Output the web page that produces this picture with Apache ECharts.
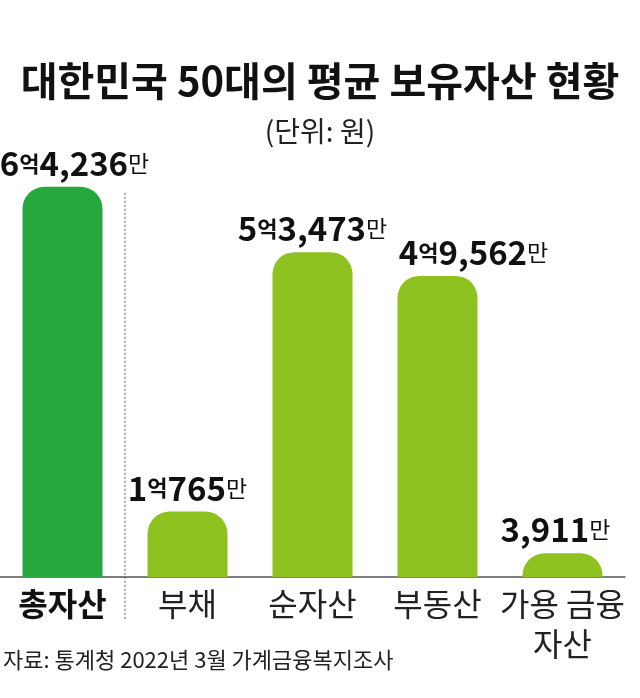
<!DOCTYPE html>
<html><head><meta charset="utf-8">
<script src="https://cdn.jsdelivr.net/npm/echarts@6/dist/echarts.min.js"></script>
<style>html,body{margin:0;padding:0;background:#fff}#c{width:640px;height:698px}</style>
</head><body><div id="c"></div>
<script>
const titleText = '대한민국 50대의 평균 보유자산 현황';
const unitText = '(단위: 원)';
const sourceText = '자료: 통계청 2022년 3월 가계금융복지조사';
const categories = ['총자산', '부채', '순자산', '부동산', '가용 금융\n자산'];
const values = [64236, 10765, 53473, 49562, 3911]; // 만원
const labelShift = [12, 0, 0, 36, -7];
const FONT = '"Noto Sans CJK KR", "Noto Sans", sans-serif';
const GREEN = '#27a83c', LIME = '#8dc220';

function fmt(v) {
  const eok = Math.floor(v / 10000), man = v % 10000;
  const manStr = man.toLocaleString('en-US');
  return eok > 0 ? `{n|${eok}}{e|억}{n|${manStr}}{m|만}` : `{n|${manStr}}{m|만}`;
}

const chart = echarts.init(document.getElementById('c'));
chart.setOption({
  backgroundColor: '#fff',
  animation: false,
  title: [
    { text: titleText, left: 'center', top: 56, textStyle: { fontFamily: FONT, fontSize: 40, fontWeight: 'bold', color: '#111' } },
    { text: unitText, left: 'center', top: 112, textStyle: { fontFamily: FONT, fontSize: 28, fontWeight: 'normal', color: '#222' } },
    { text: sourceText, left: -2, top: 644, textStyle: { fontFamily: FONT, fontSize: 22, fontWeight: 'normal', color: '#222' } }
  ],
  grid: { left: 0, right: 15, top: 91, bottom: 121 },
  xAxis: {
    type: 'category', data: categories,
    axisLine: { lineStyle: { color: '#555', width: 1.5 } },
    axisTick: { show: false },
    axisLabel: {
      margin: 7, interval: 0, color: '#222', fontFamily: FONT, fontSize: 32, lineHeight: 40,
      formatter: (v, i) => i === 0 ? `{b|${v}}` : v,
      rich: { b: { fontFamily: FONT, fontSize: 32, fontWeight: 'bold', color: '#111', lineHeight: 40 } }
    }
  },
  yAxis: { type: 'value', min: 0, max: 80000, show: false, splitLine: { show: false } },
  series: [{
    type: 'bar', barWidth: 80,
    data: values.map((v, i) => ({
      value: v,
      itemStyle: { color: i === 0 ? GREEN : LIME, borderRadius: [22, 22, 0, 0] },
      label: { offset: [labelShift[i], 0] }
    })),
    label: {
      show: true, position: 'top', distance: 7,
      formatter: p => fmt(p.value),
      rich: {
        n: { fontFamily: FONT, fontSize: 33, fontWeight: 'bold', color: '#111' },
        e: { fontFamily: FONT, fontSize: 22, fontWeight: 'bold', color: '#111' },
        m: { fontFamily: FONT, fontSize: 23, fontWeight: 'normal', color: '#111' }
      }
    }
  }]
});

// dotted separator between first and second category
const x0 = chart.convertToPixel({ xAxisIndex: 0 }, 0);
const x1 = chart.convertToPixel({ xAxisIndex: 0 }, 1);
const yTop = chart.convertToPixel({ yAxisIndex: 0 }, values[0]);
const yBase = chart.convertToPixel({ yAxisIndex: 0 }, 0);
chart.setOption({
  graphic: [{
    type: 'line', silent: true,
    shape: { x1: (x0 + x1) / 2, y1: yTop + 6, x2: (x0 + x1) / 2, y2: yBase + 42 },
    style: { stroke: '#555', lineWidth: 1, lineDash: [2, 2] }
  }]
});
</script></body></html>
